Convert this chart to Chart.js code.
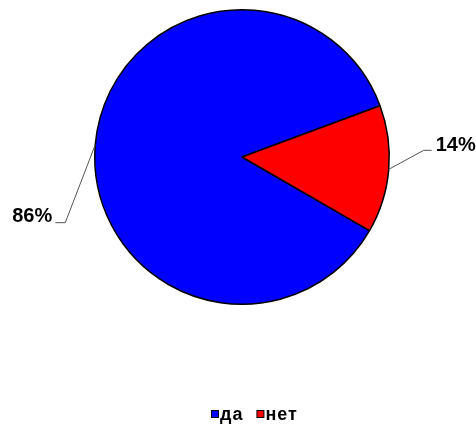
<!DOCTYPE html>
<html>
<head>
<meta charset="utf-8">
<script src="https://cdn.jsdelivr.net/npm/chart.js@4"></script>
<style>
  body { margin: 0; background: #fff; }
  #wrap { width: 476px; height: 425px; }
</style>
</head>
<body>
<div id="wrap"><canvas id="pieCanvas" width="476" height="425"></canvas></div>
<script>
const categories = ["да", "нет"];
const values = [86, 14];
const colors = ["#0000ff", "#ff0000"];
const percentLabels = ["86%", "14%"];

// leader line shape per slice: elbow offset from edge point, then horizontal run
const leaders = [
  { dx: -30, dy: 78, run: -10 },
  { dx: 35, dy: -19, run: 8 }
];

const labelPlugin = {
  id: "labelPlugin",
  afterDraw(chart) {
    const ctx = chart.ctx;
    const arcs = chart.getDatasetMeta(0).data;
    ctx.save();
    ctx.font = "bold 20px 'Liberation Sans', Arial, sans-serif";
    ctx.textBaseline = "middle";
    arcs.forEach((arc, i) => {
      const mid = (arc.startAngle + arc.endAngle) / 2;
      const x0 = arc.x + Math.cos(mid) * arc.outerRadius;
      const y0 = arc.y + Math.sin(mid) * arc.outerRadius;
      const L = leaders[i];
      const x1 = x0 + L.dx, y1 = y0 + L.dy;
      const x2 = x1 + L.run;
      ctx.strokeStyle = "#555";
      ctx.lineWidth = 1;
      ctx.beginPath();
      ctx.moveTo(x0, y0);
      ctx.lineTo(x1, y1);
      ctx.lineTo(x2, y1);
      ctx.stroke();
      ctx.fillStyle = "#000";
      if (L.run < 0) {
        ctx.textAlign = "right";
        ctx.fillText(percentLabels[i], x2 - 3, y1 - 6);
      } else {
        ctx.textAlign = "left";
        ctx.fillText(percentLabels[i], x2 + 4, y1 - 5);
      }
    });

    // legend
    ctx.font = "bold 18px 'Liberation Sans', Arial, sans-serif";
    ctx.letterSpacing = "1px";
    ctx.textAlign = "left";
    ctx.textBaseline = "alphabetic";
    const box = 7, gap = 2, itemGap = 13;
    const widths = categories.map(c => box + gap + ctx.measureText(c).width);
    const total = widths.reduce((a, b) => a + b, 0) + itemGap * (categories.length - 1);
    let x = Math.round((chart.width - total) / 2 + 16);
    const y = 420;
    categories.forEach((c, i) => {
      ctx.fillStyle = colors[i];
      ctx.fillRect(x + 0.5, y - 9.5, box, box);
      ctx.strokeStyle = "#000";
      ctx.lineWidth = 1;
      ctx.strokeRect(x + 0.5, y - 9.5, box, box);
      ctx.fillStyle = "#000";
      ctx.fillText(c, x + box + gap, y);
      x += widths[i] + itemGap;
    });
    ctx.restore();
  }
};

const pieChart = new Chart(document.getElementById("pieCanvas"), {
  type: "pie",
  data: {
    labels: categories,
    datasets: [{
      data: values,
      backgroundColor: colors,
      borderColor: "#000",
      borderWidth: 1.5,
      hoverOffset: 0
    }]
  },
  options: {
    responsive: false,
    animation: false,
    rotation: 120,
    layout: { padding: { left: 94, right: 86, top: 9, bottom: 120 } },
    plugins: {
      legend: { display: false },
      tooltip: { enabled: false }
    }
  },
  plugins: [labelPlugin]
});
</script>
</body>
</html>
